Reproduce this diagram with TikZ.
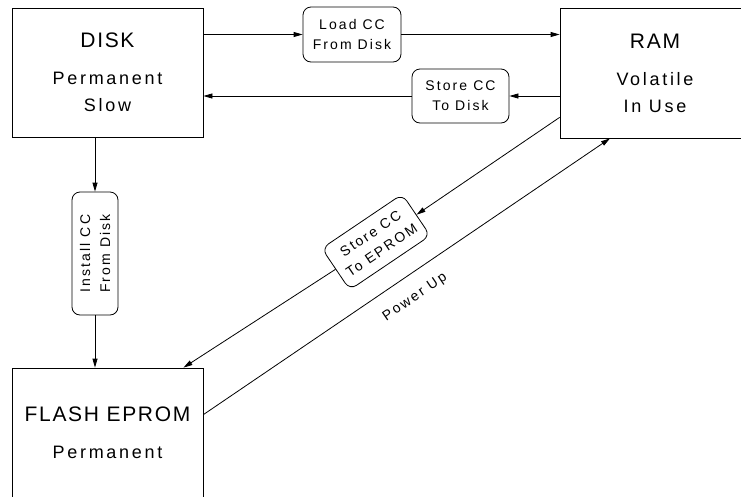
\documentclass[tikz,border=0pt]{standalone}
\usepackage{fontspec}
\setmainfont{Liberation Sans}[LetterSpace=15]
\newfontfamily\headfamily{Liberation Sans}[LetterSpace=8]
\usetikzlibrary{arrows.meta}
\newcommand{\headfont}{\headfamily\fontsize{21}{27}\selectfont}
\newcommand{\bodyfont}{\fontsize{18}{27}\selectfont}
\newcommand{\tagfont}{\fontsize{14}{20}\selectfont}
\begin{document}
\begin{tikzpicture}[x=1pt, y=-1pt,
    every node/.style={font=\tagfont},
    membox/.style={rectangle, draw, line width=0.8pt, align=center, font=\bodyfont, minimum width=191pt, minimum height=129pt, inner sep=0pt},
    stepbox/.style={rectangle, draw, line width=0.8pt, rounded corners=8pt, align=center, font=\tagfont, minimum width=97pt, minimum height=54pt, inner sep=0pt},
    link/.style={line width=0.8pt, -{Triangle[length=9pt, width=5pt]}}
  ]
  \useasboundingbox (0,0) rectangle (741,496);
  \clip (0,0) rectangle (741,496);

  \node[membox] (disk) at (107.5,72.5) {{\headfont DISK}\\[10pt]Permanent\\Slow};
  \node[membox, minimum width=190pt, minimum height=130pt] (ram) at (655,73) {{\headfont RAM}\\[10pt]Volatile\\In Use};
  \node[membox] (flash) at (107.5,432.5) {{\headfont FLASH EPROM}\\[10pt]Permanent};

  \node[stepbox, minimum width=98pt, minimum height=55pt] (load) at (352,34.5) {Load CC\\From Disk};
  \node[stepbox] (storedisk) at (460.5,96) {Store CC\\To Disk};
  \node[stepbox, minimum width=123pt, minimum height=46pt, rotate=90] (install) at (95,253.5) {Install CC\\From Disk};
  \node[stepbox, minimum height=50pt, rotate=34] (storeeprom) at (376,242) {Store CC\\To EPROM};

  \coordinate (ramout) at ([yshift=21pt]ram.south west);
  \coordinate (flashin) at ([xshift=76pt]flash.north);
  \coordinate (flashout) at ([yshift=-47pt]flash.north east);
  \coordinate (ramin) at ([xshift=-45pt]ram.south);

  \draw[link] (disk.east |- load) -- (load);
  \draw[link] (load) -- (ram.west |- load);
  \draw[link] (ram.west |- storedisk) -- (storedisk);
  \draw[link] (storedisk) -- (disk.east |- storedisk);
  \draw[link] (install |- disk.south) -- (install);
  \draw[link] (install) -- (install |- flash.north);
  \draw[link] (ramout) -- (storeeprom.east);
  \draw[link] (storeeprom.west) -- (flashin);
  \draw[link] (flashout) -- node[sloped, below=12pt, pos=0.49] {Power Up} (ramin);
\end{tikzpicture}
\end{document}
